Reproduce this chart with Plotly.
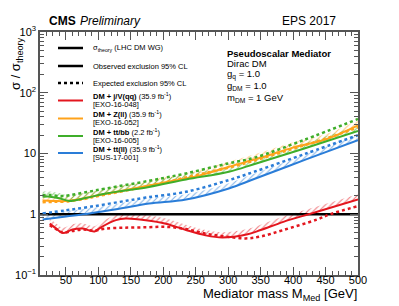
import plotly.graph_objects as go

# ---------------- data ----------------
red_obs_m = [25, 35, 45, 60, 76, 94, 104, 127, 142, 173, 204, 235, 265, 291, 330, 350, 385, 424, 437, 500]
red_obs_v = [0.70, 0.58, 0.49, 0.56, 0.58, 0.52, 0.61, 0.80, 0.85, 0.80, 0.70, 0.55, 0.45, 0.415, 0.47, 0.55, 0.75, 1.0, 1.10, 1.75]
red_exp_m = [25, 35, 45, 60, 76, 94, 110, 140, 175, 205, 235, 265, 296, 327, 350, 385, 437, 457, 500]
red_exp_v = [0.66, 0.57, 0.50, 0.53, 0.56, 0.54, 0.58, 0.60, 0.61, 0.62, 0.57, 0.48, 0.43, 0.40, 0.43, 0.55, 0.82, 1.0, 1.36]

or_obs_m = [14, 30, 50, 80, 100, 150, 200, 250, 300, 350, 400, 450, 500]
or_obs_v = [1.68, 1.66, 1.65, 1.85, 2.05, 2.6, 3.3, 4.2, 6.0, 8.5, 12.5, 17.0, 29.0]
or_exp_m = [14, 30, 50, 80, 100, 150, 200, 250, 300, 350, 400, 450, 500]
or_exp_v = [1.58, 1.60, 1.62, 1.80, 2.0, 2.55, 3.3, 4.4, 5.8, 8.2, 12.0, 17.5, 27.0]

gr_obs_m = [14, 25, 40, 55, 80, 112, 178, 235, 301, 342, 416, 500]
gr_obs_v = [1.94, 1.95, 1.83, 1.66, 1.85, 2.2, 2.82, 3.74, 5.0, 6.8, 12.0, 23.5]
gr_exp_m = [14, 25, 40, 55, 80, 112, 178, 235, 301, 340, 416, 500]
gr_exp_v = [2.05, 2.08, 1.99, 2.05, 2.3, 2.66, 3.55, 4.7, 6.9, 8.5, 16.6, 37.0]

bl_obs_m = [14, 50, 86, 130, 178, 235, 301, 340, 420, 500]
bl_obs_v = [0.82, 0.92, 1.03, 1.22, 1.5, 1.75, 2.66, 3.8, 8.0, 16.6]
bl_exp_m = [14, 50, 86, 130, 173, 235, 301, 340, 420, 500]
bl_exp_v = [1.03, 1.16, 1.32, 1.58, 1.88, 2.34, 3.65, 5.0, 10.0, 20.0]

theory_m = [10, 500]
theory_v = [1, 1]

x_ticks = [50, 100, 150, 200, 250, 300, 350, 400, 450, 500]
y_ticks = [0.1, 1, 10, 100, 1000]
y_ticktext = ["10<sup>−1</sup>", "1", "10", "10<sup>2</sup>", "10<sup>3</sup>"]

series_names = ["DM + j/V(qq)", "DM + Z(ll)", "DM + tt/bb", "DM + tt(ll)"]
series_lumi = ["35.9", "35.9", "2.2", "35.9"]
series_ref = ["[EXO-16-048]", "[EXO-16-052]", "[EXO-16-005]", "[SUS-17-001]"]
colors = ["#e3161e", "#ffa21a", "#3fae2a", "#2a7dd8"]

# ---------------- figure ----------------
# the page body adds an 8px margin; the figure is sized so that it fills the window
OFF = 8
W, H = 399 - OFF, 306 - OFF
L, R, T, B = 40, 358, 32, 275   # plot area in window pixels
FONT = "Liberation Sans, Arial, sans-serif"


def px(xp, yp):
    return (xp - L) / (R - L), (B - yp) / (B - T)


fig = go.Figure()

band_factor = 1.22
groups = [
    (red_obs_m, red_obs_v, red_exp_m, red_exp_v),
    (or_obs_m, or_obs_v, or_exp_m, or_exp_v),
    (gr_obs_m, gr_obs_v, gr_exp_m, gr_exp_v),
    (bl_obs_m, bl_obs_v, bl_exp_m, bl_exp_v),
]

# hatched bands (on the upper side of the observed curve)
for (om, ov, em, ev), c in zip(groups, colors):
    fig.add_trace(go.Scatter(x=om, y=[v * band_factor for v in ov], mode="lines",
                             line=dict(width=0, color=c, shape="spline"), hoverinfo="skip",
                             showlegend=False))
    fig.add_trace(go.Scatter(x=om, y=ov, mode="lines", line=dict(width=0, color=c, shape="spline"),
                             fill="tonexty", fillcolor="rgba(0,0,0,0)",
                             fillpattern=dict(shape="/", fgcolor=c, size=4, solidity=0.25,
                                              bgcolor="rgba(0,0,0,0)", fgopacity=0.6),
                             hoverinfo="skip", showlegend=False))

# theory line
fig.add_trace(go.Scatter(x=theory_m, y=theory_v, mode="lines",
                         line=dict(color="black", width=2.5), showlegend=False))

for (om, ov, em, ev), c in zip(groups, colors):
    fig.add_trace(go.Scatter(x=em, y=ev, mode="lines",
                             line=dict(color=c, width=2.5, dash="dot", shape="spline"),
                             showlegend=False))
    fig.add_trace(go.Scatter(x=om, y=ov, mode="lines",
                             line=dict(color=c, width=2, shape="spline"),
                             showlegend=False))

# ---------------- axes ----------------
axis_common = dict(showline=True, linecolor="#555555", linewidth=1.5, mirror="allticks",
                   ticks="inside", tickcolor="#555555", showgrid=False, zeroline=False,
                   automargin=False,
                   tickfont=dict(family=FONT, size=11, color="black"))

x_minor = [v for v in range(10, 501, 10) if v % 50 != 0]
fig.update_xaxes(range=[10, 500], tickvals=x_ticks, ticklen=8, tickwidth=1,
                 ticklabelstandoff=-6,
                 minor=dict(tickvals=x_minor, ticks="inside", ticklen=4, tickcolor="#555555"),
                 **axis_common)

y_minor = []
for d in [0.1, 1, 10, 100]:
    for k in range(2, 10):
        y_minor.append(k * d)
fig.update_yaxes(type="log", range=[-1, 3], tickvals=y_ticks, ticktext=y_ticktext,
                 ticklen=8, tickwidth=1,
                 minor=dict(tickvals=y_minor, ticks="inside", ticklen=4, tickcolor="#555555"),
                 **axis_common)

# ---------------- legend (drawn manually) ----------------
shapes = []
ann = []


def legend_line(yp, color, dash="solid", width=2.0):
    x0, y0 = px(58, yp)
    x1, _ = px(83, yp)
    shapes.append(dict(type="line", xref="paper", yref="paper", x0=x0, x1=x1, y0=y0, y1=y0,
                       line=dict(color=color, width=width, dash=dash)))


def text(xp, yp, s, size, xanchor="left", yanchor="middle", color="black", angle=0):
    x, y = px(xp, yp)
    ann.append(dict(xref="paper", yref="paper", x=x, y=y, text=s, showarrow=False,
                    xanchor=xanchor, yanchor=yanchor, textangle=angle, borderpad=0,
                    font=dict(family=FONT, size=size, color=color)))


LEG = 7.5
legend_line(48, "black", width=2.5)
text(92, 48, "σ<sub>theory</sub> (LHC DM WG)", LEG)
legend_line(66, "black", width=2.5)
text(92, 66, "Observed exclusion 95% CL", LEG)
legend_line(83, "black", dash="dot", width=2.5)
text(92, 83, "Expected exclusion 95% CL", LEG)

line_y = [100.5, 118.5, 136, 153]
for i in range(4):
    legend_line(line_y[i], colors[i], width=2)
    text(92, line_y[i] - 4.3, "<b>%s</b> (%s fb<sup>-1</sup>)" % (series_names[i], series_lumi[i]), LEG)
    text(92, line_y[i] + 4.5, series_ref[i], LEG)

# header texts
text(48, 21, "<b>CMS</b>", 12)
text(79, 21, "<i>Preliminary</i>", 12)
text(337, 21, "EPS 2017", 12, xanchor="right")

# info block
text(226, 53, "<b>Pseudoscalar Mediator</b>", 9.5)
text(226, 64, "Dirac DM", 9.5)
text(226, 74, "g<sub>q</sub> = 1.0", 9.5)
text(226, 86, "g<sub>DM</sub> = 1.0", 9.5)
text(226, 98, "m<sub>DM</sub> = 1 GeV", 9.5)

# axis titles
text(358, 294, "Mediator mass M<sub>Med</sub> [GeV]", 13, xanchor="right")
text(17, 64, "σ / σ<sub>theory</sub>", 13, xanchor="center", angle=-90)

fig.update_layout(width=W, height=H, autosize=False,
                  margin=dict(l=L - OFF, r=399 - R, t=T - OFF, b=306 - B, pad=0),
                  paper_bgcolor="white", plot_bgcolor="white",
                  shapes=shapes, annotations=ann, showlegend=False,
                  font=dict(family=FONT, color="black"))

fig.write_html("out.html")
